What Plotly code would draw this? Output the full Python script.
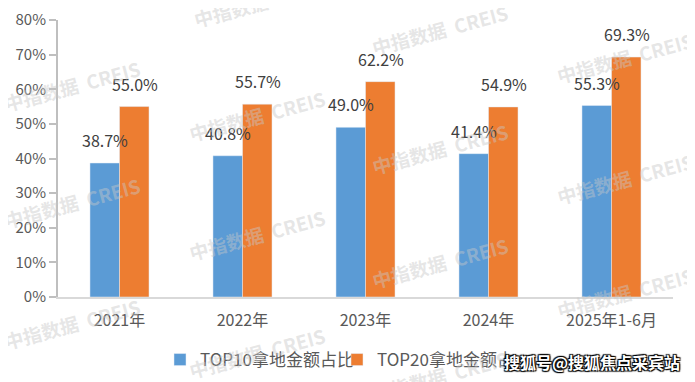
import plotly.graph_objects as go

categories = ["2021年", "2022年", "2023年", "2024年", "2025年1-6月"]
top10 = [0.387, 0.408, 0.490, 0.414, 0.553]
top20 = [0.550, 0.557, 0.622, 0.549, 0.693]
series_names = ["TOP10拿地金额占比", "TOP20拿地金额占比"]
y_ticks = [0, 0.1, 0.2, 0.3, 0.4, 0.5, 0.6, 0.7, 0.8]

BLUE = "#5B9BD5"
ORANGE = "#ED7D31"
FONT = "Noto Sans CJK SC"

# page body has an 8px margin; figure sized to fit the window
OFF = 8
W, H = 695 - OFF, 382 - OFF
L, R, T, B = 58 - OFF, 22, 20 - OFF, 85
PW, PH = W - L - R, H - T - B


def px_x(sx):
    return (sx - OFF - L) / PW


def px_y(sy):
    return (H - B - (sy - OFF)) / PH


fig = go.Figure()
fig.add_trace(go.Bar(x=categories, y=top10, name=series_names[0], marker_color=BLUE))
fig.add_trace(go.Bar(x=categories, y=top20, name=series_names[1], marker_color=ORANGE))

annotations = []
for vals, shift in ((top10, -15), (top20, 15)):
    for c, v in zip(categories, vals):
        annotations.append(dict(
            x=c, y=v, xref="x", yref="y", text=f"{v*100:.1f}%",
            showarrow=False, yanchor="bottom", xshift=shift, yshift=9,
            font=dict(family=FONT, size=16, color="#404040")))

# watermarks (screen px centres)
wm = [(72, 85), (72, 202), (72, 323),
      (262, 2), (257, 115), (257, 234), (257, 352),
      (440, 30), (440, 148), (440, 262), (440, 375),
      (625, 58), (625, 178), (625, 292)]
for sx, sy in wm:
    annotations.append(dict(
        x=px_x(sx), y=px_y(sy), xref="paper", yref="paper",
        xanchor="center", yanchor="middle",
        text="<b>中指数据  CREIS</b>",
        showarrow=False, textangle=-15,
        font=dict(family=FONT, size=19, color="rgba(200,200,200,0.45)")))

annotations.append(dict(
    x=px_x(682), y=px_y(362), xref="paper", yref="paper",
    xanchor="right", yanchor="middle",
    text="<b>搜狐号@搜狐焦点采宾站</b>", showarrow=False,
    font=dict(family=FONT, size=16, color="white",
              shadow="1px 1px 1px #000, -1px -1px 1px #000, 1px -1px 1px #000, -1px 1px 1px #000")))

fig.update_layout(
    width=W, height=H,
    margin=dict(l=L, r=R, t=T, b=B, autoexpand=False),
    paper_bgcolor="white", plot_bgcolor="white",
    barmode="group", bargap=0.52, bargroupgap=0,
    font=dict(family=FONT, color="#595959"),
    showlegend=True,
    legend=dict(orientation="h", x=px_x(160), xanchor="left",
                y=px_y(360), yanchor="middle",
                font=dict(family=FONT, size=17, color="#595959"),
                itemwidth=30, entrywidth=132, traceorder="normal"),
    annotations=annotations,
)
fig.update_xaxes(showline=True, linecolor="#D9D9D9", linewidth=2, ticks="",
                 tickfont=dict(family=FONT, size=16, color="#595959"),
                 ticklabelstandoff=8, showgrid=False, automargin=False)
fig.update_yaxes(range=[0, 0.8], tickvals=y_ticks, tickformat=".0%", showline=True,
                 linecolor="#BFBFBF", linewidth=2, ticks="outside", ticklen=7,
                 tickcolor="#BFBFBF", tickwidth=2, showgrid=False, zeroline=False,
                 automargin=False,
                 tickfont=dict(family=FONT, size=15, color="#595959"))

fig.write_html("out.html")
